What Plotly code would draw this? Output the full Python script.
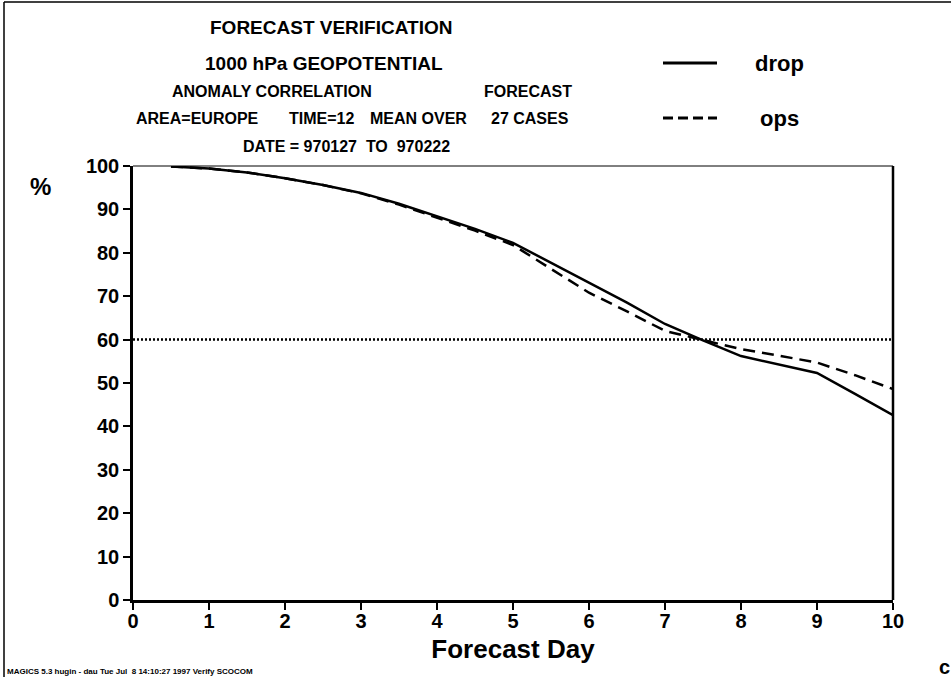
import plotly.graph_objects as go

# Forecast day (12-hourly steps) and anomaly correlation (%) for the two runs
days = [0.5, 1.0, 1.5, 2.0, 2.5, 3.0, 3.5, 4.0, 4.5, 5.0,
        5.5, 6.0, 6.5, 7.0, 7.5, 8.0, 8.5, 9.0, 9.5, 10.0]
drop = [99.9, 99.4, 98.5, 97.2, 95.6, 93.8, 91.3, 88.4, 85.5, 82.3,
        77.7, 73.2, 68.5, 63.6, 59.8, 56.2, 54.3, 52.3, 47.5, 42.6]
ops = [99.9, 99.4, 98.5, 97.2, 95.6, 93.7, 91.1, 88.1, 85.1, 81.8,
       76.2, 70.8, 66.5, 62.0, 59.9, 57.8, 56.3, 54.7, 51.8, 48.6]

threshold_days = [0, 10]
threshold_pct = [60, 60]

x_ticks = list(range(0, 11))
y_ticks = list(range(0, 101, 10))

title_lines = [
    "FORECAST VERIFICATION",
    "1000 hPa GEOPOTENTIAL",
]
footer = "MAGICS 5.3 hugin - dau Tue Jul  8 14:10:27 1997 Verify SCOCOM"

BOLD = "Liberation Sans"
NARROW = "Liberation Sans Narrow, Liberation Sans"

fig = go.Figure()

fig.add_trace(go.Scatter(
    x=threshold_days, y=threshold_pct, mode="lines",
    line=dict(color="black", width=2.5, dash="2px,2px"),
    showlegend=False, hoverinfo="skip"))

fig.add_trace(go.Scatter(
    x=days, y=ops, mode="lines", name="ops",
    line=dict(color="black", width=2.5, dash="12px,7px"),
    showlegend=False))

fig.add_trace(go.Scatter(
    x=days, y=drop, mode="lines", name="drop",
    line=dict(color="black", width=2.5),
    showlegend=False))

W, H = 951, 677
L, R, T, B = 133, 58, 166, 77
PW, PH = W - L - R, H - T - B


def px(xp):
    """Page pixel column -> paper fraction of the plotting area."""
    return (xp - L) / PW


def py(yp):
    """Page pixel row -> paper fraction of the plotting area."""
    return (H - B - yp) / PH


annotations = []


def text(x, y, s, size, family=BOLD, anchor="center"):
    annotations.append(dict(
        x=px(x), y=py(y), xref="paper", yref="paper", text=s, showarrow=False,
        xanchor=anchor, yanchor="middle",
        font=dict(family=family, size=size, color="black", weight="bold")))


text(331, 27, title_lines[0], 19)
text(324, 63, title_lines[1], 19)
text(272, 92, "ANOMALY CORRELATION", 16)
text(528, 92, "FORECAST", 16)
text(197, 118, "AREA=EUROPE", 16)
text(321, 118, "TIME=12", 16)
text(418, 118, "MEAN OVER", 16)
text(530, 118, "27 CASES", 16)
text(346, 146, "DATE&nbsp;=&nbsp;970127&nbsp;&nbsp;TO&nbsp;&nbsp;970222", 16)
text(753, 63, "drop", 22, anchor="left")
text(758, 119, "ops", 22, anchor="left")
text(40, 186, "%", 24)
text(5, 671, footer, 8, family=NARROW, anchor="left")
text(944, 667, "c", 20)

shapes = [
    # legend samples
    dict(type="line", xref="paper", yref="paper", x0=px(663), x1=px(717),
         y0=py(63), y1=py(63), line=dict(color="black", width=3)),
    dict(type="line", xref="paper", yref="paper", x0=px(663), x1=px(717),
         y0=py(118), y1=py(118), line=dict(color="black", width=3, dash="10px,5px")),
    # plot frame: thin top edge, heavy right edge
    dict(type="line", xref="paper", yref="paper", x0=0, x1=1, y0=1, y1=1,
         line=dict(color="black", width=1)),
    dict(type="line", xref="paper", yref="paper", x0=1, x1=1, y0=0, y1=1,
         line=dict(color="black", width=2.5)),
    # page border (top and left edges)
    dict(type="line", xref="paper", yref="paper", x0=px(4), x1=px(951), y0=py(2), y1=py(2),
         line=dict(color="black", width=1.5)),
    dict(type="line", xref="paper", yref="paper", x0=px(4), x1=px(4), y0=py(2), y1=py(677),
         line=dict(color="black", width=1.5)),
]

tickfont = dict(family=BOLD, size=20, color="black", weight="bold")

fig.update_layout(
    width=W, height=H,
    margin=dict(l=L, r=R, t=T, b=B),
    paper_bgcolor="white", plot_bgcolor="white",
    showlegend=False,
    annotations=annotations,
    shapes=shapes,
    xaxis=dict(
        range=[0, 10], tickvals=x_ticks, ticks="outside", ticklen=7, tickwidth=1.5,
        tickcolor="black", showline=True, linecolor="black", linewidth=2.5,
        showgrid=False, zeroline=False, tickfont=tickfont, ticklabelstandoff=-6,
        title=dict(text="Forecast Day", standoff=10,
                   font=dict(family=BOLD, size=26, color="black", weight="bold"))),
    yaxis=dict(
        range=[0, 100], tickvals=y_ticks, ticks="outside", ticklen=7, tickwidth=1.5,
        tickcolor="black", showline=True, linecolor="black", linewidth=2.5,
        showgrid=False, zeroline=False, tickfont=tickfont),
)

fig.write_html("out.html")
